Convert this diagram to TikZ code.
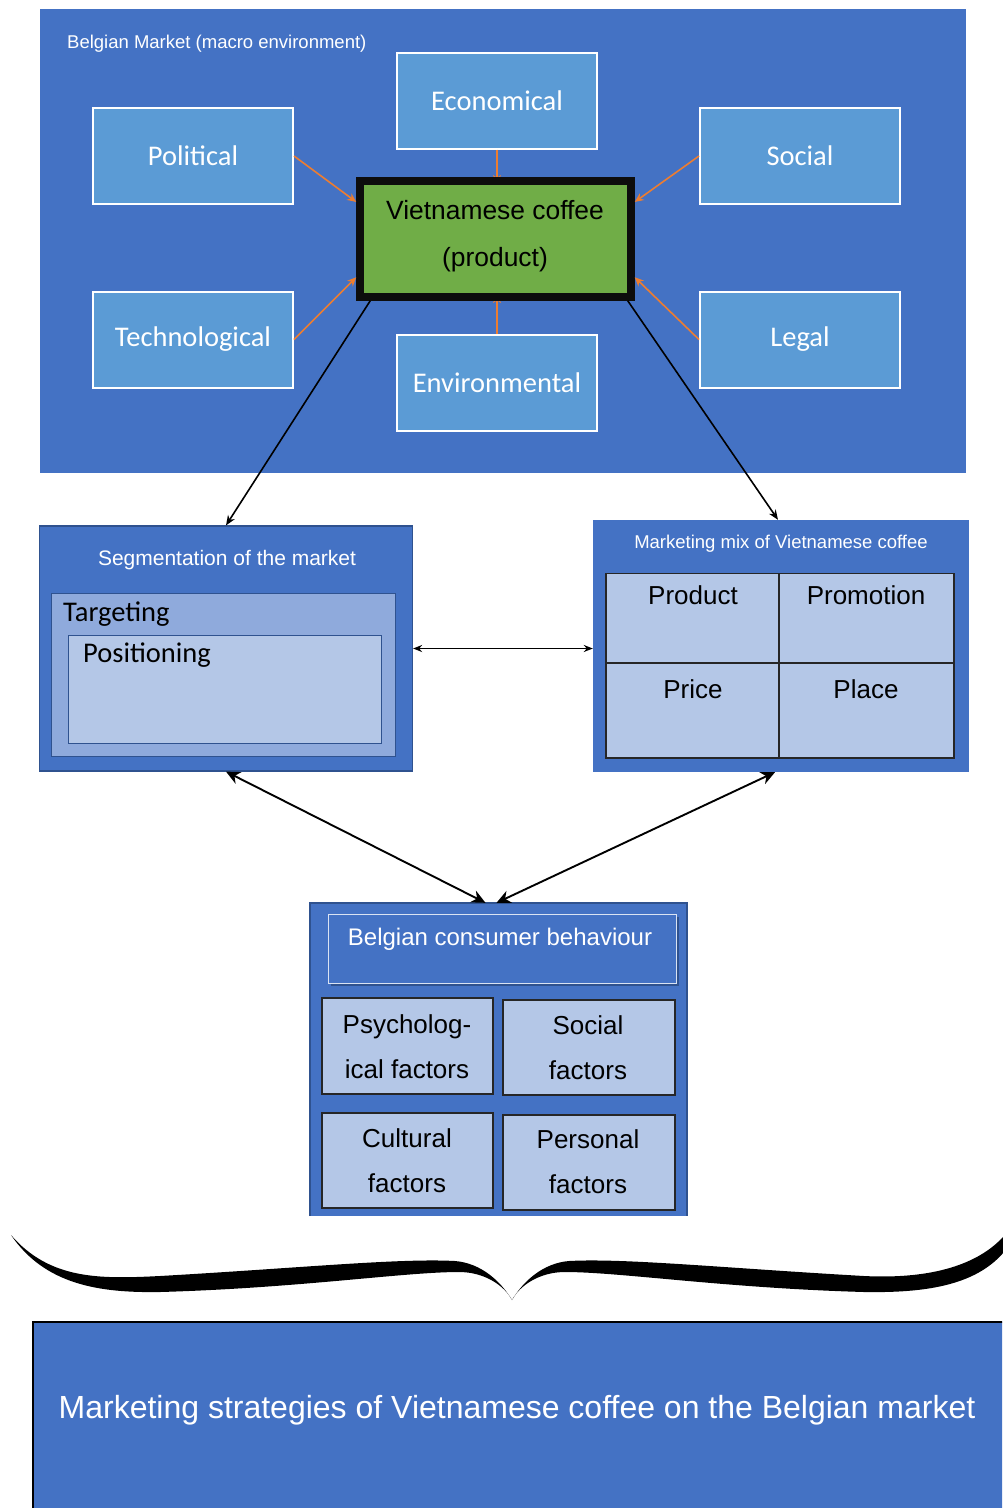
\documentclass[tikz,border=0pt]{standalone}
\usepackage{fontspec}
\setmainfont{Liberation Sans}
\newfontfamily\calib{Carlito}
\usetikzlibrary{arrows.meta,calc,shadows}
\definecolor{mblue}{HTML}{4472C4}
\definecolor{lblue}{HTML}{5B9BD5}
\definecolor{cgreen}{HTML}{70AD47}
\definecolor{corange}{HTML}{ED7D31}
\definecolor{pale}{HTML}{B4C7E7}
\definecolor{midb}{HTML}{8FAADC}
\definecolor{dborder}{HTML}{2F528F}
\begin{document}
\begin{tikzpicture}[x=1pt,y=-1pt,
  pest/.style={draw=white, line width=2pt, fill=lblue, minimum width=200pt, minimum height=96pt, inner sep=0pt, text=white, font=\calib\fontsize{28.5}{34}\selectfont},
  palebox/.style={draw=dborder, line width=1.2pt, fill=pale, inner sep=0pt},
  cellbox/.style={draw=black!85, line width=1.4pt, fill=pale, inner sep=0pt},
  lbl/.style={inner sep=0pt, anchor=base},
  oarr/.style={draw=corange, line width=1.6pt, -{Stealth[length=9pt,width=8pt]}},
  karr/.style={draw=black, line width=1.6pt, -{Stealth[length=10pt,width=8pt]}},
  bigarr/.style={draw=black, line width=1.9pt, {Stealth[length=14pt,width=13pt]}-{Stealth[length=14pt,width=13pt]}},
  f26/.style={font=\fontsize{26}{31}\selectfont},
]
\useasboundingbox (0,0) rectangle (1002,1508);

% macro environment
\node[fill=mblue, minimum width=926pt, minimum height=464pt, inner sep=0pt] (macro) at (503,241) {};
\node[lbl, anchor=base west, text=white, font=\fontsize{18.5}{22}\selectfont] (mtitle) at (67,48) {Belgian Market (macro environment)};

\node[pest] (pol) at (193,156) {Political};
\node[pest] (eco) at (497,100.5) {Economical};
\node[pest] (soc) at (800,156) {Social};
\node[pest] (tech) at (193,339.5) {Technological};
\node[pest] (env) at (497,383) {Environmental};
\node[pest] (leg) at (800,339.5) {Legal};

% vertical orange arrows: tips hidden under the thick border
\draw[oarr] (eco.south) -- (497,184);
\draw[oarr] (env.north) -- (497,294);

\node[draw=black!95, line width=7.5pt, fill=cgreen, minimum width=271pt, minimum height=116pt, inner sep=0pt,
      drop shadow={shadow xshift=3pt, shadow yshift=-3pt, fill=dborder, opacity=0.8}] (ctr) at (495.5,239) {};
\node[lbl, font=\fontsize{26.4}{31}\selectfont] (ctrt1) at (495,219) {Vietnamese coffee};
\node[lbl, font=\fontsize{26.4}{31}\selectfont] (ctrt2) at (495,266) {(product)};

\draw[oarr] (pol.east) -- ($(ctr.north west)!0.2!(ctr.south west)$);
\draw[oarr] (soc.west) -- ($(ctr.north east)!0.2!(ctr.south east)$);
\draw[oarr] (tech.east) -- ($(ctr.north west)!0.81!(ctr.south west)$);
\draw[oarr] (leg.west) -- ($(ctr.north east)!0.81!(ctr.south east)$);

% segmentation
\node[fill=mblue, draw=dborder, line width=1.2pt, minimum width=373pt, minimum height=245pt, inner sep=0pt] (seg) at (226,648.5) {};
\node[lbl, text=white, font=\fontsize{21}{25}\selectfont] (segt) at (227,565) {Segmentation of the market};
\node[palebox, fill=midb, minimum width=344pt, minimum height=163pt] (targ) at (223.5,675) {};
\node[lbl, anchor=base west, font=\calib\fontsize{28.5}{34}\selectfont] (targt) at (63,621) {Targeting};
\node[palebox, minimum width=313pt, minimum height=108pt] (pos) at (225,689.5) {};
\node[lbl, anchor=base west, font=\calib\fontsize{28.5}{34}\selectfont] (post) at (83,662) {Positioning};

% marketing mix
\node[fill=mblue, minimum width=376pt, minimum height=252pt, inner sep=0pt] (mix) at (781,646) {};
\node[cellbox, minimum width=173pt, minimum height=90pt] (cprod) at (692.5,618) {};
\node[cellbox, minimum width=175pt, minimum height=90pt] (cprom) at (866.5,618) {};
\node[cellbox, minimum width=173pt, minimum height=95pt] (cpric) at (692.5,710.5) {};
\node[cellbox, minimum width=175pt, minimum height=95pt] (cplac) at (866.5,710.5) {};
\node[fill=mblue, minimum width=376pt, minimum height=53pt, inner sep=0pt] (mixhead) at (781,546.5) {};
\node[lbl, text=white, font=\fontsize{18.5}{22}\selectfont] (mixt) at (781,548) {Marketing mix of Vietnamese coffee};
\node[lbl, f26] (tprod) at (693,604) {Product};
\node[lbl, f26] (tprom) at (866,604) {Promotion};
\node[lbl, f26] (tpric) at (693,698) {Price};
\node[lbl, f26] (tplac) at (866,698) {Place};

% consumer behaviour
\node[fill=mblue, minimum width=376pt, minimum height=313pt, inner sep=0pt] (cons) at (498.5,1059.5) {};
\draw[dborder, line width=2pt] (cons.south west) -- (cons.north west) -- (cons.north east) -- (cons.south east);
\node[fill=mblue, draw=white!80!mblue, line width=1pt, minimum width=348pt, minimum height=69pt, inner sep=0pt,
      drop shadow={shadow xshift=3pt, shadow yshift=-3pt, fill=dborder, opacity=1}] (conshead) at (502,948.5) {};
\node[lbl, text=white, font=\fontsize{24}{29}\selectfont] (const) at (500,945) {Belgian consumer behaviour};
\node[cellbox, minimum width=171pt, minimum height=96pt] (psy) at (407.5,1046) {};
\node[cellbox, minimum width=172pt, minimum height=95pt] (socf) at (589,1047.5) {};
\node[cellbox, minimum width=171pt, minimum height=95pt] (cul) at (407.5,1160.5) {};
\node[cellbox, minimum width=172pt, minimum height=95pt] (per) at (589,1162.5) {};
\node[lbl, f26] (psy1) at (407,1033) {Psycholog-};
\node[lbl, f26] (psy2) at (407,1078) {ical factors};
\node[lbl, f26] (soc1) at (588,1034) {Social};
\node[lbl, f26] (soc2) at (588,1079) {factors};
\node[lbl, f26] (cul1) at (407,1147) {Cultural};
\node[lbl, f26] (cul2) at (407,1192) {factors};
\node[lbl, f26] (per1) at (588,1148) {Personal};
\node[lbl, f26] (per2) at (588,1193) {factors};

% connectors
\draw[karr] ([xshift=14pt]ctr.south west) -- (seg.north);
\draw[karr] ([xshift=-7pt]ctr.south east) -- ([xshift=-3pt]mix.north);
\draw[draw=black, line width=1.5pt, {Stealth[length=9pt,width=7pt]}-{Stealth[length=9pt,width=7pt]}] (seg.east) -- (mix.west |- seg.east);
\draw[bigarr] (seg.south) -- ([xshift=-13pt]cons.north);
\draw[bigarr] ([xshift=-6pt]mix.south) -- ([xshift=-2pt]cons.north);

% brace
\fill[black] (11,1235) .. controls (50,1280) and (100,1279) .. (160,1276)
  .. controls (300,1268) and (400,1258) .. (455,1261)
  .. controls (480,1263) and (500,1280) .. (512,1300)
  .. controls (524,1280) and (544,1263) .. (569,1261)
  .. controls (624,1258) and (724,1268) .. (864,1276)
  .. controls (924,1279) and (975,1268) .. (1004,1236)
  -- (1004,1252)
  .. controls (975,1286) and (924,1293) .. (864,1292)
  .. controls (724,1288) and (620,1272) .. (565,1272)
  .. controls (540,1272) and (520,1285) .. (512,1300)
  .. controls (504,1285) and (484,1272) .. (459,1272)
  .. controls (404,1272) and (300,1288) .. (160,1292)
  .. controls (100,1293) and (45,1285) .. (11,1235) -- cycle;

% strategies
\begin{scope}
\clip (0,0) rectangle (1002,1508);
\node[fill=mblue, draw=black, line width=1.5pt, minimum width=990pt, minimum height=200pt, inner sep=0pt, anchor=north west] (strat) at (32,1321) {};
\end{scope}
\node[lbl, text=white, font=\fontsize{32}{38}\selectfont] (stratt) at (517,1418) {Marketing strategies of Vietnamese coffee on the Belgian market};
\end{tikzpicture}
\end{document}
